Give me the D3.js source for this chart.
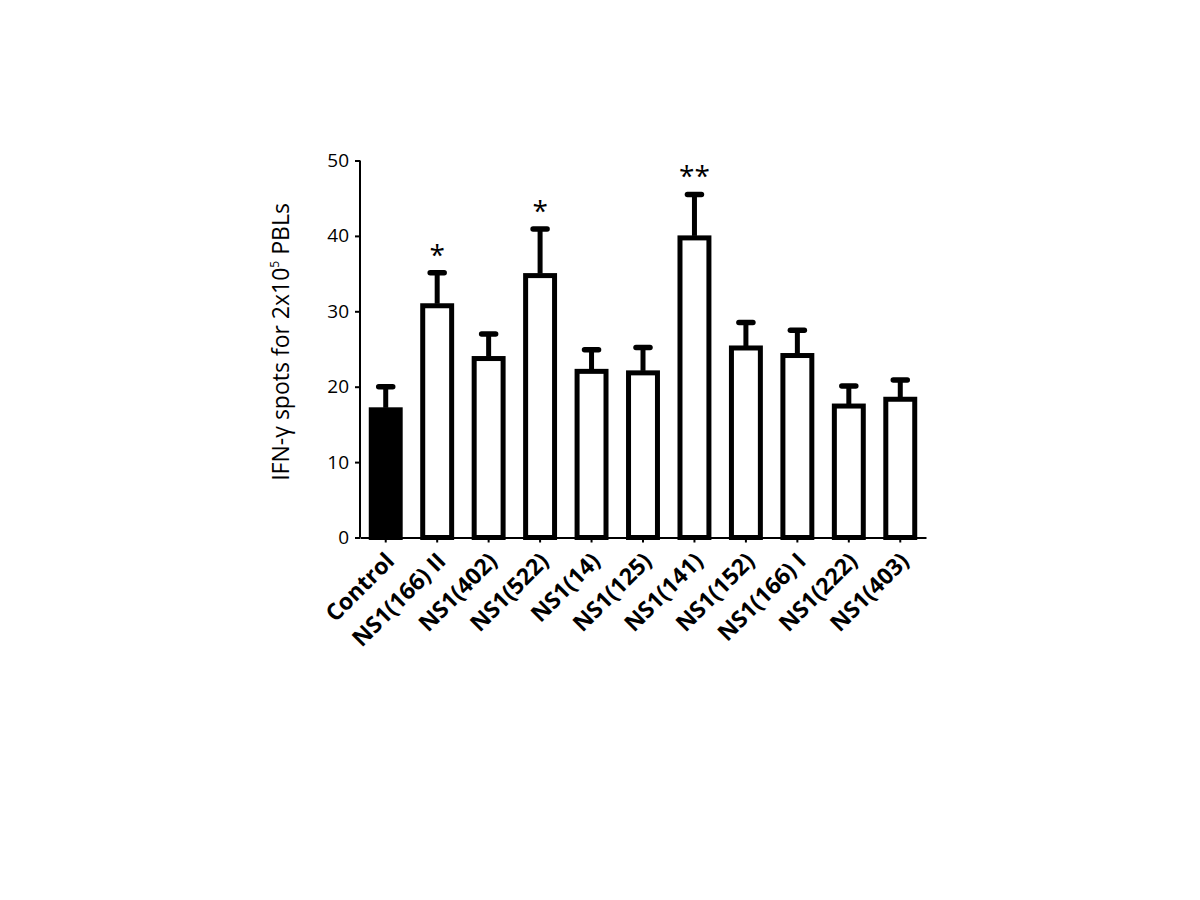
<!DOCTYPE html>
<html>
<head>
<meta charset="utf-8">
<script src="https://cdn.jsdelivr.net/npm/d3@7"></script>
<style>
  body { margin: 0; background: #fff; }
</style>
</head>
<body>
<script>
var categories = ["Control", "NS1(166) II", "NS1(402)", "NS1(522)", "NS1(14)", "NS1(125)",
                  "NS1(141)", "NS1(152)", "NS1(166) I", "NS1(222)", "NS1(403)"];
var means  = [17.2, 31.0, 24.0, 35.0, 22.3, 22.1, 40.0, 25.4, 24.4, 17.7, 18.6];
var errors = [2.8, 4.1, 3.0, 5.9, 2.6, 3.1, 5.5, 3.1, 3.1, 2.4, 2.3];
var stars  = ["", "*", "", "*", "", "", "**", "", "", "", ""];
var yTicks = [0, 10, 20, 30, 40, 50];

var svg = d3.select("body").append("svg")
    .attr("width", 1200)
    .attr("height", 900);

var x = d3.scaleBand()
    .domain(categories)
    .range([360, 926])
    .paddingInner(0.36)
    .paddingOuter(0.18);

var y = d3.scaleLinear()
    .domain([0, 50])
    .range([537.5, 160.5]);

// bars
svg.selectAll(".bar")
    .data(categories)
    .enter()
    .append("rect")
        .attr("class", "bar")
        .attr("x", function(d) { return x(d) + 2; })
        .attr("y", function(d, i) { return y(means[i]) + 2; })
        .attr("width", x.bandwidth() - 4)
        .attr("height", function(d, i) { return y(0) - y(means[i]) - 2; })
        .attr("fill", function(d, i) { return i == 0 ? "#000" : "#fff"; })
        .attr("stroke", "#000")
        .attr("stroke-width", 5);

// error bars
var eb = svg.selectAll(".err")
    .data(categories)
    .enter()
    .append("g")
        .attr("class", "err");

eb.append("line")
    .attr("x1", function(d) { return x(d) + x.bandwidth() / 2; })
    .attr("x2", function(d) { return x(d) + x.bandwidth() / 2; })
    .attr("y1", function(d, i) { return y(means[i]); })
    .attr("y2", function(d, i) { return y(means[i] + errors[i]); })
    .attr("stroke", "#000")
    .attr("stroke-width", 5);

eb.append("line")
    .attr("x1", function(d) { return x(d) + x.bandwidth() / 2 - 7; })
    .attr("x2", function(d) { return x(d) + x.bandwidth() / 2 + 7; })
    .attr("y1", function(d, i) { return y(means[i] + errors[i]); })
    .attr("y2", function(d, i) { return y(means[i] + errors[i]); })
    .attr("stroke", "#000")
    .attr("stroke-width", 5.5)
    .attr("stroke-linecap", "round");

// significance stars
svg.selectAll(".star")
    .data(categories)
    .enter()
    .append("text")
        .attr("class", "star")
        .attr("x", function(d) { return x(d) + x.bandwidth() / 2; })
        .attr("y", function(d, i) { return y(means[i] + errors[i]) - 8; })
        .attr("text-anchor", "middle")
        .style("font-family", "'Open Sans', sans-serif")
        .style("font-size", "28px")
        .text(function(d, i) { return stars[i]; });

// y axis
var yAxis = svg.append("g")
    .attr("transform", "translate(360,0)")
    .call(d3.axisLeft(y).tickValues(yTicks).tickSize(5).tickPadding(6));
yAxis.selectAll("path, line").attr("stroke", "#000").attr("stroke-width", 2);
yAxis.select(".domain").attr("d", "M0," + y(50) + "V" + y(0));
yAxis.selectAll("text")
    .style("font-family", "'Open Sans', sans-serif")
    .style("font-size", "19px")
    .attr("fill", "#000");

// x axis
var xAxis = svg.append("g")
    .attr("transform", "translate(0," + y(0) + ")")
    .call(d3.axisBottom(x).tickSize(5).tickSizeOuter(0));
xAxis.selectAll("path, line").attr("stroke", "#000").attr("stroke-width", 2);
xAxis.selectAll("text")
    .style("font-family", "'Open Sans', sans-serif")
    .style("font-size", "23px")
    .style("font-weight", "bold")
    .attr("fill", "#000")
    .attr("text-anchor", "end")
    .attr("dy", null)
    .attr("y", 0)
    .attr("transform", "translate(10,25) rotate(-45)");

// y axis label
var yl = svg.append("text")
    .attr("transform", "translate(289," + 342 + ") rotate(-90)")
    .attr("text-anchor", "middle")
    .style("font-family", "'Open Sans', sans-serif")
    .style("font-size", "23px")
    .attr("fill", "#000");
yl.append("tspan").text("IFN-\u03b3 spots for 2x10");
yl.append("tspan").attr("dy", -10).style("font-size", "12px").text("5");
yl.append("tspan").attr("dy", 10).text(" PBLs");
</script>
</body>
</html>
